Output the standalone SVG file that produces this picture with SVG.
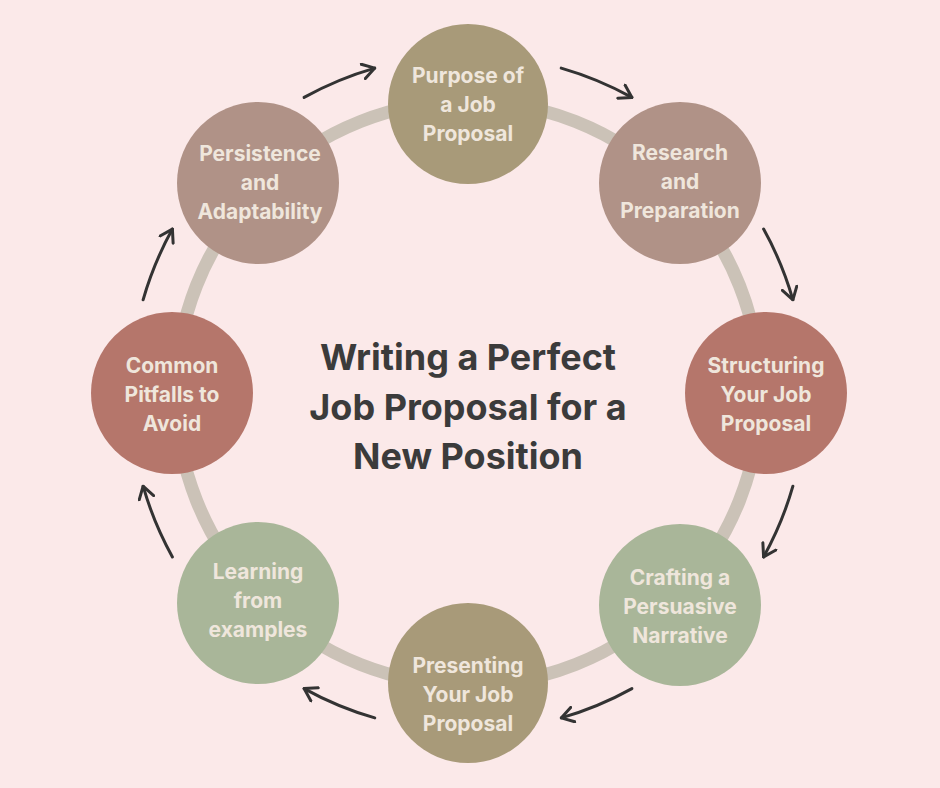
<svg xmlns="http://www.w3.org/2000/svg" width="940" height="788" viewBox="0 0 940 788">
<style>
.n{font-family:Inter,"Liberation Sans",sans-serif;font-weight:700;font-size:21px;fill:#efe6dc;text-anchor:middle}
.t{font-family:Inter,"Liberation Sans",sans-serif;font-weight:700;font-size:36px;fill:#3b3b3b;text-anchor:middle}
.a{fill:none;stroke:#333;stroke-width:3;stroke-linecap:round;marker-end:url(#h)}
</style>
<defs><marker id="h" viewBox="0 0 10 12" refX="9" refY="6" markerWidth="5" markerHeight="6" orient="auto" markerUnits="strokeWidth"><path d="M1,1 L9,6 L1,11" fill="none" stroke="#333" stroke-width="2" stroke-linecap="round" stroke-linejoin="round"/></marker></defs>
<rect width="940" height="788" fill="#fbe9e9"/>
<circle cx="468" cy="393" r="292" fill="none" stroke="#cbc2b7" stroke-width="13"/>
<g id="connectors">
<path class="a" d="M561.2,68.1 A338,338 0 0 1 631.9,97.4"/>
<path class="a" d="M763.6,229.1 A338,338 0 0 1 792.9,299.8"/>
<path class="a" d="M792.9,486.2 A338,338 0 0 1 763.6,556.9"/>
<path class="a" d="M631.9,688.6 A338,338 0 0 1 561.2,717.9"/>
<path class="a" d="M374.8,717.9 A338,338 0 0 1 304.1,688.6"/>
<path class="a" d="M172.4,556.9 A338,338 0 0 1 143.1,486.2"/>
<path class="a" d="M143.1,299.8 A338,338 0 0 1 172.4,229.1"/>
<path class="a" d="M304.1,97.4 A338,338 0 0 1 374.8,68.1"/>
</g>
<g id="title"><text class="t" x="468" y="370">Writing a Perfect</text><text class="t" x="468" y="420">Job Proposal for a</text><text class="t" x="468" y="469">New Position</text></g>
<g id="n1"><circle cx="468" cy="104" r="80" fill="#a89a79"/><text class="n" x="468" y="83">Purpose of</text><text class="n" x="468" y="112">a Job</text><text class="n" x="468" y="141">Proposal</text></g>
<g id="n2"><circle cx="680" cy="183" r="81" fill="#b09287"/><text class="n" x="680" y="160">Research</text><text class="n" x="680" y="189">and</text><text class="n" x="680" y="218">Preparation</text></g>
<g id="n3"><circle cx="766" cy="393" r="81" fill="#b5766b"/><text class="n" x="766" y="373">Structuring</text><text class="n" x="766" y="402">Your Job</text><text class="n" x="766" y="431">Proposal</text></g>
<g id="n4"><circle cx="680" cy="605" r="81" fill="#a9b699"/><text class="n" x="680" y="585">Crafting a</text><text class="n" x="680" y="614">Persuasive</text><text class="n" x="680" y="643">Narrative</text></g>
<g id="n5"><circle cx="468" cy="683" r="80" fill="#a89a79"/><text class="n" x="468" y="673">Presenting</text><text class="n" x="468" y="702">Your Job</text><text class="n" x="468" y="731">Proposal</text></g>
<g id="n6"><circle cx="258" cy="603" r="81" fill="#a9b699"/><text class="n" x="258" y="579">Learning</text><text class="n" x="258" y="608">from</text><text class="n" x="258" y="637">examples</text></g>
<g id="n7"><circle cx="172" cy="393" r="81" fill="#b5766b"/><text class="n" x="172" y="373">Common</text><text class="n" x="172" y="402">Pitfalls to</text><text class="n" x="172" y="431">Avoid</text></g>
<g id="n8"><circle cx="258" cy="183" r="81" fill="#b09287"/><text class="n" x="260" y="161">Persistence</text><text class="n" x="260" y="190">and</text><text class="n" x="260" y="219">Adaptability</text></g>
</svg>
